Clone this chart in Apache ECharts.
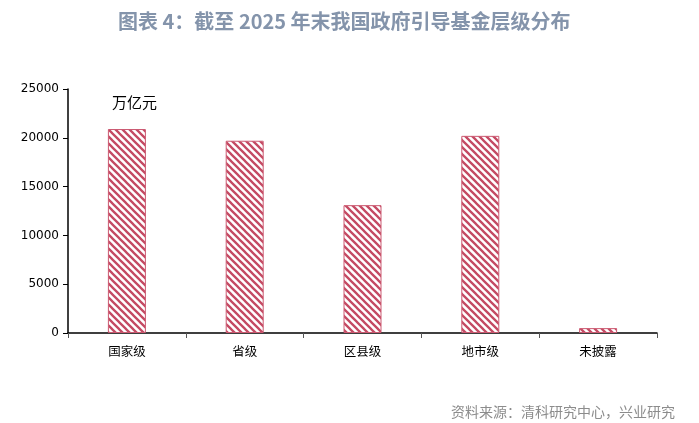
<!DOCTYPE html>
<html><head><meta charset="utf-8">
<script src="https://cdn.jsdelivr.net/npm/echarts@6/dist/echarts.min.js"></script>
<style>html,body{margin:0;padding:0;background:#fff}#c{width:699px;height:423px}</style>
</head><body><div id="c"></div>
<script>
const categories = ['国家级','省级','区县级','地市级','未披露'];
const values = [20900, 19700, 13100, 20200, 500];
const yTicks = [0, 5000, 10000, 15000, 20000, 25000];

const red = '#c44a63';
function makePattern(){
  const p = 7;
  const c = document.createElement('canvas');
  c.width = p; c.height = p;
  const g = c.getContext('2d');
  g.fillStyle = '#fff'; g.fillRect(0,0,p,p);
  g.strokeStyle = red; g.lineWidth = 2.3;
  g.beginPath();
  g.moveTo(-1,-1); g.lineTo(p+1,p+1);
  g.moveTo(-p-1,-1); g.lineTo(1,p+1);
  g.moveTo(p-1,-1); g.lineTo(2*p+1,p+1);
  g.stroke();
  return c;
}

const chart = echarts.init(document.getElementById('c'), null, {renderer:'canvas'});
chart.setOption({
  animation: false,
  title: [{
    text: '图表 4：截至 2025 年末我国政府引导基金层级分布',
    left: 113, top: 6,
    textStyle: {color:'#8494ab', fontSize: 20, fontWeight:'bold', fontFamily:'"Noto Sans CJK SC", sans-serif'}
  },{
    text: '资料来源：清科研究中心，兴业研究',
    right: 19, top: 400,
    textStyle: {color:'#8c8c8c', fontSize: 14, fontWeight:'normal', fontFamily:'"Noto Sans CJK SC", sans-serif'}
  },{
    text: '万亿元',
    left: 107, top: 90,
    textStyle: {color:'#000', fontSize: 15, fontWeight:'normal', fontFamily:'"Noto Sans CJK SC", sans-serif'}
  }],
  grid: {left: 68, right: 42, top: 89, bottom: 90},
  xAxis: {
    type: 'category', data: categories,
    axisLine: {lineStyle:{color:'#000', width:1.5}},
    axisTick: {show:true, inside:false, length:5, lineStyle:{color:'#555'}},
    axisLabel: {color:'#000', fontSize: 12.5, margin: 12, fontFamily:'"Noto Sans CJK SC", sans-serif'}
  },
  yAxis: {
    type: 'value', min: 0, max: 25000, interval: 5000,
    axisLine: {show:true, lineStyle:{color:'#000', width:1.5}},
    axisTick: {show:true, length:5, lineStyle:{color:'#000'}},
    splitLine: {show:false},
    axisLabel: {color:'#000', fontSize: 12, margin: 9, fontFamily:'"DejaVu Sans", sans-serif',
      formatter: v => yTicks.includes(v) ? String(v) : ''}
  },
  series: [{
    type: 'bar', data: values, barWidth: 38,
    itemStyle: {color: {image: makePattern(), repeat:'repeat'}, borderColor: '#cc5a72', borderWidth: 1}
  }]
});
</script></body></html>
